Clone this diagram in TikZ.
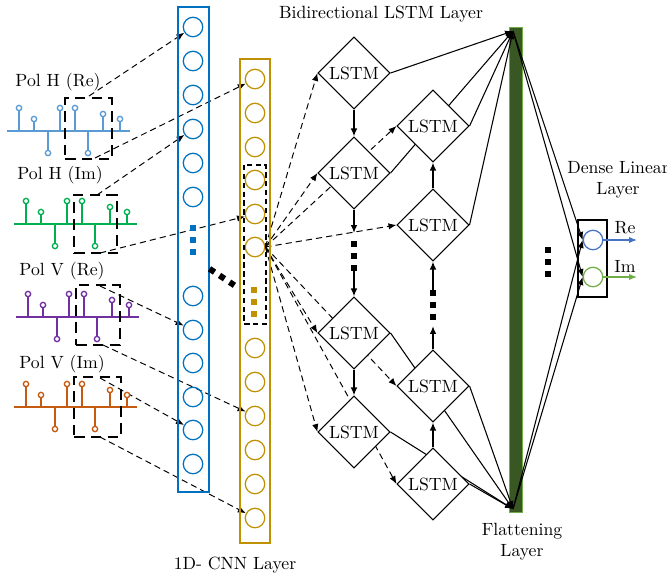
\documentclass[tikz,border=0pt]{standalone}
\usetikzlibrary{shapes.geometric,arrows.meta,calc,fit}
\definecolor{cblue}{HTML}{0070C0}
\definecolor{cgold}{HTML}{BF9000}
\definecolor{sblue}{HTML}{5B9BD5}
\definecolor{sgreen}{HTML}{00B050}
\definecolor{spurple}{HTML}{7030A0}
\definecolor{sorange}{HTML}{C55A11}
\definecolor{fdark}{HTML}{385723}
\definecolor{flight}{HTML}{70AD47}
\definecolor{reblue}{HTML}{4472C4}
\pgfdeclarelayer{bg}
\pgfsetlayers{bg,main}
\newcommand\stemsig[3]{%
  \draw[#1,line width=0.85pt] ({#2-12},#3) -- ({#2+111},#3);
  \foreach \dx/\hh in {0/23,15/12,29/-22,41/23,56/23,69/-22,84/17,101/12}{%
    \draw[#1,line width=0.85pt] ({#2+\dx},#3) -- ({#2+\dx},{#3-\hh});
    \draw[#1,line width=0.75pt,fill=white] ({#2+\dx},{#3-\hh}) circle[radius=1.5pt];
  }%
}
\begin{document}
\begin{tikzpicture}[x=0.565pt,y=-0.565pt,
  bcirc/.style={circle,draw=cblue,line width=0.7pt,minimum size=11pt,inner sep=0pt},
  ycirc/.style={circle,draw=cgold,line width=0.7pt,minimum size=11pt,inner sep=0pt},
  sigbox/.style={draw,line width=1.5pt,dash pattern=on 6pt off 3.5pt,inner sep=0pt},
  lstm/.style={diamond,draw,fill=white,line width=0.6pt,minimum width=40.7pt,minimum height=40.7pt,inner sep=0pt},
  arrtip/.style={-{Latex[length=4.5pt,width=3.6pt]}},
  dashar/.style={arrtip,line width=0.55pt,dash pattern=on 3.5pt off 2.3pt},
  solar/.style={arrtip,line width=0.6pt},
  vthick/.style={-{Latex[length=4.5pt,width=3.8pt]},line width=1.2pt},
  sqdots/.style={line width=3.4pt,dash pattern=on 3.4pt off 3.4pt},
]
\useasboundingbox (0,0) rectangle (667,580);

% ---------- signals ----------
\stemsig{sblue}{19}{131}
\stemsig{sgreen}{26}{224}
\stemsig{spurple}{28}{317}
\stemsig{sorange}{26}{407}
\node (lhr) at (58,82) {Pol H (Re)};
\node (lhi) at (60,175) {Pol H (Im)};
\node (lvr) at (62,271) {Pol V (Re)};
\node (lvi) at (62,364) {Pol V (Im)};
\node[sigbox,fit={(65,98) (112,159)}] (bhr) {};
\node[sigbox,fit={(74,195) (117,253)}] (bhi) {};
\node[sigbox,fit={(76,285) (120,345)}] (bvr) {};
\node[sigbox,fit={(74,377) (121,437)}] (bvi) {};
\coordinate (s1) at (89,96);
\coordinate (s2) at (95,158);
\coordinate (s3) at (97,195);
\coordinate (s4) at (100,253);
\coordinate (s5) at (100,286);
\coordinate (s6) at (103,345);
\coordinate (s7) at (100,378);
\coordinate (s8) at (100,437);

% ---------- CNN columns ----------
\draw[cblue,line width=0.85pt] (178,7) rectangle (209,492);
\draw[cgold,line width=0.85pt] (240,59) rectangle (270,543);
\foreach \i/\yy in {1/27,2/61,3/95,4/129,5/163,6/197,7/296,8/330,9/363,10/397,11/430,12/464}
  \node[bcirc] (B\i) at (193,\yy) {};
\foreach \i/\yy in {1/79,2/113,3/147,4/180,5/214,6/247,7/348,8/382,9/416,10/450,11/484,12/518}
  \node[ycirc] (Y\i) at (255,\yy) {};
\draw[dash pattern=on 3pt off 2pt,line width=0.6pt] (244,165) rectangle (266,324);
\draw[sqdots,cblue] (193,225) -- (193,255);
\draw[sqdots,cgold] (254,287) -- (254,317);
\draw[sqdots] (209.5,268.8) -- (234.4,285.3);
\node (cnnt) at (235,565) {1D- CNN Layer};

% ---------- LSTM ----------
\node (blt) at (381,14) {Bidirectional LSTM Layer};
\node[lstm] (L1) at (354,73) {LSTM};
\node[lstm] (L2) at (354,173) {LSTM};
\node[lstm] (L3) at (354,333) {LSTM};
\node[lstm] (L4) at (354,432) {LSTM};
\node[lstm] (R1) at (433,126) {LSTM};
\node[lstm] (R2) at (433,225) {LSTM};
\node[lstm] (R3) at (433,386) {LSTM};
\node[lstm] (R4) at (433,484) {LSTM};

\draw[vthick] (L1.south) -- (L2.north);
\coordinate (la) at (354,233);
\draw[vthick] (L2.south) -- (la);
\draw[sqdots] (354,241) -- (354,271);
\coordinate (lb) at (354,271);
\draw[vthick] (lb) -- (L3.north);
\draw[vthick] (L3.south) -- (L4.north);
\draw[vthick] (R4.north) -- (R3.south);
\coordinate (ra) at (433,326);
\draw[vthick] (R3.north) -- (ra);
\draw[sqdots] (433,320) -- (433,290);
\coordinate (rb) at (433,290);
\draw[vthick] (rb) -- (R2.south);
\draw[vthick] (R2.north) -- (R1.south);

% ---------- flattening & dense ----------
\coordinate (ftop) at (513,31);
\coordinate (fbot) at (513,509);
\node[align=center] (flt) at (522,542) {Flattening\\Layer};
\node[draw,line width=0.6pt,fit={(578,220) (607,297)},inner sep=0pt] (dense) {};
\node[circle,draw=reblue,line width=0.7pt,minimum size=11pt,inner sep=0pt] (Re) at (593,240) {};
\node[circle,draw=flight,line width=0.7pt,minimum size=11pt,inner sep=0pt] (Im) at (593,277) {};
\coordinate (reo) at (637,240);
\coordinate (imo) at (637,277);
\draw[reblue,line width=0.7pt,arrtip] (Re) -- (reo);
\draw[flight,line width=0.7pt,arrtip] (Im) -- (imo);
\node (ret) at (625,228) {Re};
\node (imt) at (625,266) {Im};
\node[align=center] (dlt) at (618,180) {Dense Linear\\Layer};
\draw[sqdots] (548,247) -- (548,277);

% ---------- background connectors ----------
\begin{pgfonlayer}{bg}
\node[fill=fdark,draw=flight,line width=0.4pt,fit={(509,27) (522,512)},inner sep=0pt] (flat) {};
\draw[dashar] (s1) -- (B1);
\draw[dashar] (s2) -- (Y1);
\draw[dashar] (s3) -- (B4);
\draw[dashar] (s4) -- (Y5);
\draw[dashar] (s5) -- (B8);
\draw[dashar] (s6) -- (Y9);
\draw[dashar] (s7) -- (B11);
\draw[dashar] (s8) -- (Y12);
\foreach \t in {L1,L2,R1,R2,L3,L4,R3,R4}
  \draw[dashar] (Y6.east) -- (\t.west);
\foreach \t in {L1,L2,R1,R2}
  \draw[solar] (\t.east) -- (ftop);
\foreach \t in {L3,L4,R3,R4}
  \draw[solar] (\t.east) -- (fbot);
\draw[solar] (ftop) -- (Re.west);
\draw[solar] (ftop) -- (Im.west);
\draw[solar] (fbot) -- (Re.west);
\draw[solar] (fbot) -- (Im.west);
\end{pgfonlayer}
\end{tikzpicture}
\end{document}
